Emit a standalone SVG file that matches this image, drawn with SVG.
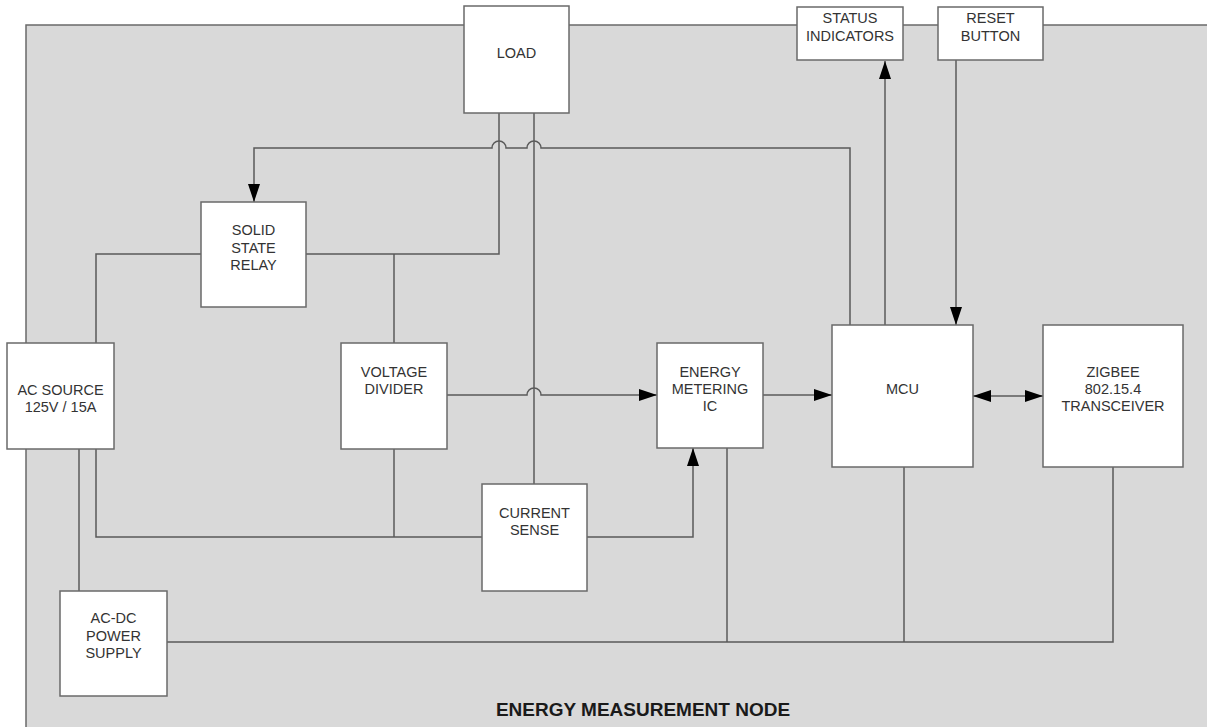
<svg xmlns="http://www.w3.org/2000/svg" width="1207" height="727" viewBox="0 0 1207 727">
<style>
.box{fill:#ffffff;stroke:#6a6a6a;stroke-width:1.5}
.ln{fill:none;stroke:#5a5a5a;stroke-width:1.5}
.lbl{font-family:"Liberation Sans",Arial,sans-serif;font-size:14.5px;fill:#333333;text-anchor:middle}
.title{font-family:"Liberation Sans",Arial,sans-serif;font-size:19px;font-weight:bold;fill:#1a1a1a;text-anchor:middle}
</style>
<defs>
<marker id="ah" markerWidth="18" markerHeight="12" refX="18" refY="6" orient="auto" markerUnits="userSpaceOnUse">
<path d="M0,0 L18,6 L0,12 Z" fill="#000000"/>
</marker>
<marker id="ahs" markerWidth="18" markerHeight="12" refX="0" refY="6" orient="auto" markerUnits="userSpaceOnUse">
<path d="M18,0 L0,6 L18,12 Z" fill="#000000"/>
</marker>
</defs>
<rect x="0" y="0" width="1207" height="727" fill="#ffffff"/>
<g id="enclosure">
<rect x="26" y="25" width="1190" height="720" fill="#d9d9d9" stroke="#6a6a6a" stroke-width="1.5"/>
<text class="title" x="643" y="716">ENERGY MEASUREMENT NODE</text>
</g>
<g id="connectors">
<path class="ln" d="M850,325 V148 H541 A7,7 0 0 0 527,148 H506 A7,7 0 0 0 492,148 H254 V202" marker-end="url(#ah)"/>
<path class="ln" d="M499,113 V254 H306"/>
<path class="ln" d="M534,113 V484"/>
<path class="ln" d="M201,254 H96 V343"/>
<path class="ln" d="M394,254 V343"/>
<path class="ln" d="M447,395 H527 A7,7 0 0 1 541,395 H657" marker-end="url(#ah)"/>
<path class="ln" d="M763,395 H832" marker-end="url(#ah)"/>
<path class="ln" d="M973,396 H1043" marker-start="url(#ahs)" marker-end="url(#ah)"/>
<path class="ln" d="M885,325 V61" marker-end="url(#ah)"/>
<path class="ln" d="M956,60 V325" marker-end="url(#ah)"/>
<path class="ln" d="M96,449 V537 H482"/>
<path class="ln" d="M394,449 V537"/>
<path class="ln" d="M587,537 H693 V448" marker-end="url(#ah)"/>
<path class="ln" d="M79,449 V591" stroke="#777777"/>
<path class="ln" d="M167,642 H1113 V467"/>
<path class="ln" d="M727,448 V642"/>
<path class="ln" d="M904,467 V642"/>
</g>
<g id="load">
<rect class="box" x="464" y="6" width="105" height="107"/>
<text class="lbl" x="516.5" y="58">LOAD</text>
</g>
<g id="status-indicators">
<rect class="box" x="797" y="7" width="106" height="53"/>
<text class="lbl" x="850" y="23">STATUS</text>
<text class="lbl" x="850" y="41">INDICATORS</text>
</g>
<g id="reset-button">
<rect class="box" x="938" y="7" width="105" height="53"/>
<text class="lbl" x="990.5" y="23">RESET</text>
<text class="lbl" x="990.5" y="41">BUTTON</text>
</g>
<g id="solid-state-relay">
<rect class="box" x="201" y="202" width="105" height="105"/>
<text class="lbl" x="253.5" y="235">SOLID</text>
<text class="lbl" x="253.5" y="253">STATE</text>
<text class="lbl" x="253.5" y="270">RELAY</text>
</g>
<g id="ac-source">
<rect class="box" x="7" y="343" width="107" height="106"/>
<text class="lbl" x="60.5" y="395">AC SOURCE</text>
<text class="lbl" x="60.5" y="412">125V / 15A</text>
</g>
<g id="voltage-divider">
<rect class="box" x="341" y="343" width="106" height="106"/>
<text class="lbl" x="394" y="377">VOLTAGE</text>
<text class="lbl" x="394" y="394">DIVIDER</text>
</g>
<g id="energy-metering-ic">
<rect class="box" x="657" y="343" width="106" height="105"/>
<text class="lbl" x="710" y="377">ENERGY</text>
<text class="lbl" x="710" y="394">METERING</text>
<text class="lbl" x="710" y="411">IC</text>
</g>
<g id="current-sense">
<rect class="box" x="482" y="484" width="105" height="107"/>
<text class="lbl" x="534.5" y="518">CURRENT</text>
<text class="lbl" x="534.5" y="535">SENSE</text>
</g>
<g id="mcu">
<rect class="box" x="832" y="325" width="141" height="142"/>
<text class="lbl" x="902.5" y="394">MCU</text>
</g>
<g id="zigbee-transceiver">
<rect class="box" x="1043" y="325" width="140" height="142"/>
<text class="lbl" x="1113" y="377">ZIGBEE</text>
<text class="lbl" x="1113" y="394">802.15.4</text>
<text class="lbl" x="1113" y="411">TRANSCEIVER</text>
</g>
<g id="ac-dc-power-supply">
<rect class="box" x="60" y="591" width="107" height="105"/>
<text class="lbl" x="113.5" y="623">AC-DC</text>
<text class="lbl" x="113.5" y="641">POWER</text>
<text class="lbl" x="113.5" y="658">SUPPLY</text>
</g>
</svg>
